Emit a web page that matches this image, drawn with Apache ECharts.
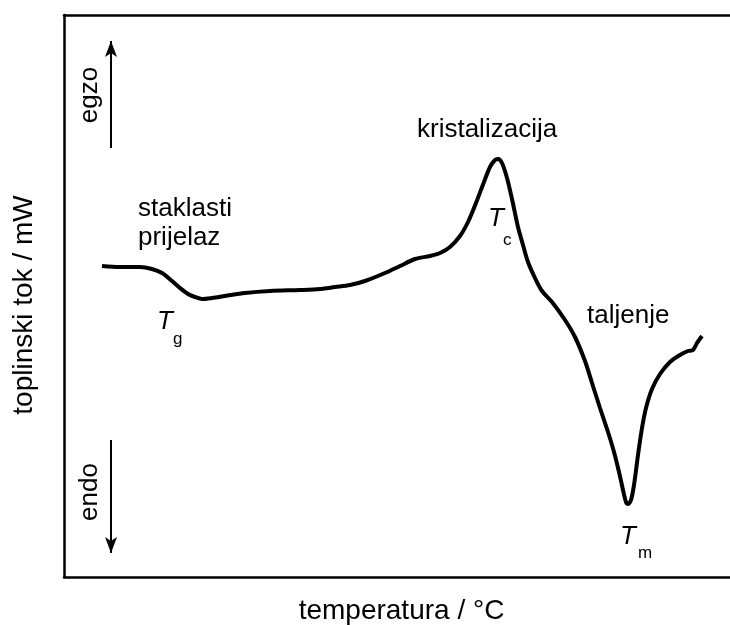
<!DOCTYPE html>
<html>
<head>
<meta charset="utf-8">
<script src="https://cdn.jsdelivr.net/npm/echarts@6/dist/echarts.min.js"></script>
<style>
  html, body { margin: 0; padding: 0; background: #fff; }
  #dsc { width: 730px; height: 625px; }
</style>
</head>
<body>
<div id="dsc"></div>
<script>
// DSC krivulja (shematski prikaz), vrijednosti ocitane sa slike
var temperatura = [38, 56, 76, 88, 98, 108, 116, 124, 131, 138, 148, 161, 181, 206, 236, 256, 271, 286, 301, 321,
  336, 351, 366, 376, 386, 396, 404, 412, 420, 426, 431, 434, 438, 443, 448, 454, 459, 464, 471, 478,
  488, 501, 511, 521, 528, 536, 544, 550, 555, 559, 562, 564, 567, 570, 574, 578, 582, 588, 596, 606,
  616, 624, 629, 633, 638];
var tok = [311, 310, 310, 308, 304, 296, 289, 283, 280, 278, 279, 281, 284, 286, 287, 288, 290, 292, 296, 304,
  311, 318, 321, 324, 330, 341, 355, 374, 395, 410, 417, 418, 414, 399, 378, 350, 332, 315, 299, 286,
  275, 257, 240, 216, 194, 169, 145, 125, 105, 87, 75, 73, 77, 92, 122, 149, 169, 188, 203, 215,
  222, 226, 227, 234, 241];
// strelice egzo / endo
var strelicaEgzo = [[47, 429], [47, 536]];
var strelicaEndo = [[47, 137], [47, 24]];

var font = "Liberation Sans, Arial, sans-serif";
var chart = echarts.init(document.getElementById("dsc"));

var points = [];
for (var i = 0; i < temperatura.length; i++) {
  points.push([temperatura[i], tok[i]]);
}

function txt(text, x, y, size, extra) {
  var el = {
    type: "text",
    x: x,
    y: y,
    style: {
      text: text,
      font: (extra && extra.italic ? "italic " : "") + size + "px " + font,
      fill: "#000",
      textAlign: (extra && extra.align) || "left",
      textVerticalAlign: "middle"
    }
  };
  if (extra && extra.rotation) el.rotation = extra.rotation;
  return el;
}

chart.setOption({
  animation: false,
  backgroundColor: "#fff",
  grid: { left: 64, right: 0, top: 15, bottom: 48, outerBoundsMode: "none" },
  xAxis: [
    {
      type: "value",
      min: 0,
      max: 666,
      name: "temperatura / °C",
      nameLocation: "middle",
      nameGap: 20,
      nameTextStyle: { fontFamily: font, fontSize: 28, color: "#000", padding: [0, 0, 0, 9] },
      axisLine: { show: true, onZero: false, lineStyle: { color: "#000", width: 2.5 } },
      axisTick: { show: false },
      axisLabel: { show: false },
      splitLine: { show: false }
    },
    {
      type: "value",
      position: "top",
      min: 0,
      max: 666,
      axisLine: { show: true, onZero: false, lineStyle: { color: "#000", width: 2.5 } },
      axisTick: { show: false },
      axisLabel: { show: false },
      splitLine: { show: false }
    }
  ],
  yAxis: {
    type: "value",
    min: 0,
    max: 562,
    name: "toplinski tok / mW",
    nameLocation: "middle",
    nameGap: 26,
    nameTextStyle: { fontFamily: font, fontSize: 28, color: "#000", padding: [0, 18, 0, 0] },
    axisLine: { show: true, onZero: false, lineStyle: { color: "#000", width: 2.5 } },
    axisTick: { show: false },
    axisLabel: { show: false },
    splitLine: { show: false }
  },
  series: [
    {
      type: "line",
      data: points,
      smooth: 0.3,
      showSymbol: false,
      lineStyle: { color: "#000", width: 4 },
      markLine: {
        silent: true,
        symbol: ["none", "arrow"],
        symbolSize: [9, 16],
        label: { show: false },
        lineStyle: { color: "#000", width: 2, type: "solid" },
        data: [
          [{ coord: strelicaEgzo[0] }, { coord: strelicaEgzo[1] }],
          [{ coord: strelicaEndo[0] }, { coord: strelicaEndo[1] }]
        ]
      }
    }
  ],
  graphic: [
    txt("egzo", 90, 95, 26, { align: "center", rotation: Math.PI / 2 }),
    txt("endo", 90, 492, 26, { align: "center", rotation: Math.PI / 2 }),
    txt("staklasti", 138, 209, 26),
    txt("prijelaz", 138, 238, 26),
    txt("T", 157, 322, 26, { italic: true }),
    txt("g", 173, 339, 17),
    txt("kristalizacija", 417, 130, 26),
    txt("T", 488, 219, 26, { italic: true }),
    txt("c", 503, 240, 17),
    txt("taljenje", 587, 316, 26),
    txt("T", 620, 537, 26, { italic: true }),
    txt("m", 638, 553, 17)
  ]
});
</script>
</body>
</html>
